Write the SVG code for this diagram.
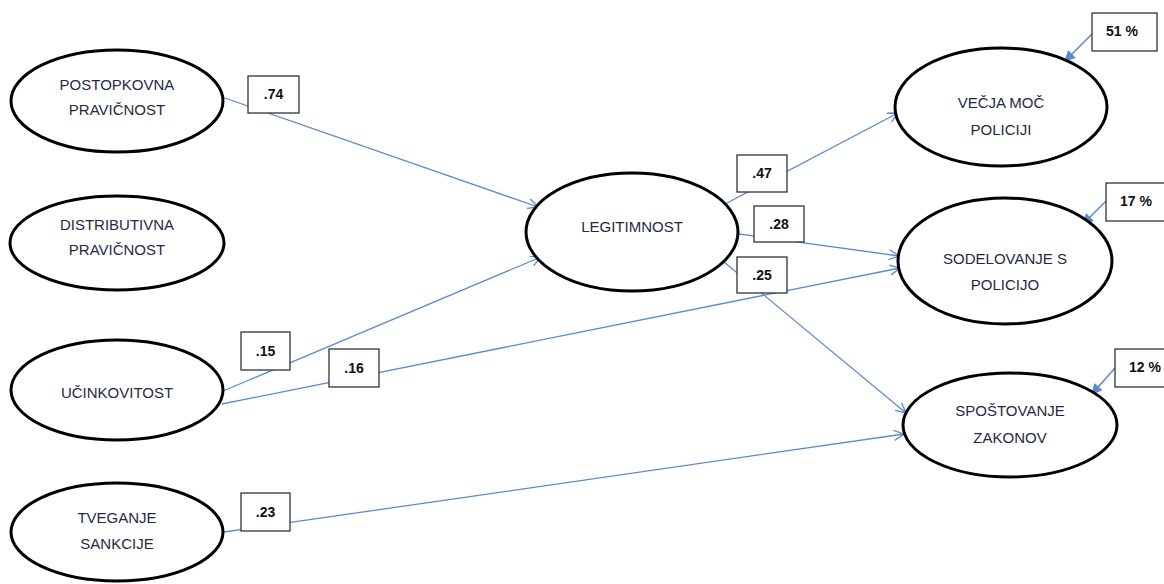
<svg xmlns="http://www.w3.org/2000/svg" width="1164" height="584" viewBox="0 0 1164 584">
  <defs>
    <style>
      .node ellipse { fill: #ffffff; stroke: #000000; stroke-width: 3; }
      .node text { font-family: "Liberation Sans", Arial, sans-serif; font-size: 15px; fill: #1f2a44; text-anchor: middle; }
      .path { stroke: #5b8bcf; stroke-width: 1.3; fill: none; }
      .path.open { marker-end: url(#open-arrow); }
      .path.solid { marker-end: url(#solid-arrow); stroke-width: 1.6; }
      .coef rect, .r2 rect { fill: #ffffff; stroke: #333333; stroke-width: 1.3; }
      .coef text, .r2 text { font-family: "Liberation Sans", Arial, sans-serif; font-size: 14px; font-weight: bold; fill: #111111; text-anchor: middle; }
    </style>
    <marker id="open-arrow" viewBox="0 0 12 12" refX="11" refY="6" markerWidth="12" markerHeight="12" markerUnits="userSpaceOnUse" orient="auto">
      <path d="M1,1 L11,6 L1,11" fill="none" stroke="#5b8bcf" stroke-width="1.3"/>
    </marker>
    <marker id="solid-arrow" viewBox="0 0 10 10" refX="9" refY="5" markerWidth="11" markerHeight="11" markerUnits="userSpaceOnUse" orient="auto">
      <path d="M0,0 L10,5 L0,10 Z" fill="#5b8bcf"/>
    </marker>
  </defs>

  <rect width="1164" height="584" fill="#ffffff"/>

  <!-- structural paths -->
  <g id="connectors">
    <line class="path open" x1="222" y1="97" x2="538" y2="207"/>
    <line class="path open" x1="223" y1="391" x2="541" y2="257"/>
    <line class="path open" x1="222" y1="404" x2="900" y2="268"/>
    <line class="path open" x1="224" y1="532" x2="904" y2="434"/>
    <line class="path open" x1="727" y1="203" x2="898" y2="113"/>
    <line class="path open" x1="739" y1="234" x2="899" y2="256"/>
    <line class="path open" x1="724" y1="262" x2="906" y2="413"/>
    <line class="path solid" x1="1093" y1="33" x2="1065" y2="61"/>
    <line class="path solid" x1="1106" y1="201" x2="1083" y2="224"/>
    <line class="path solid" x1="1115" y1="368" x2="1092" y2="394"/>
  </g>

  <!-- path coefficients -->
  <g id="coefficients">
    <g class="coef"><rect x="248" y="76" width="51" height="37"/><text x="273.5" y="99">.74</text></g>
    <g class="coef"><rect x="241" y="332" width="49" height="38"/><text x="265.5" y="356">.15</text></g>
    <g class="coef"><rect x="329" y="349" width="50" height="38"/><text x="354" y="373">.16</text></g>
    <g class="coef"><rect x="241" y="493" width="49" height="38"/><text x="265.5" y="517">.23</text></g>
    <g class="coef"><rect x="737" y="155" width="50" height="37"/><text x="762" y="178">.47</text></g>
    <g class="coef"><rect x="754" y="206" width="50" height="36"/><text x="779" y="229">.28</text></g>
    <g class="coef"><rect x="737" y="257" width="50" height="36"/><text x="762" y="280">.25</text></g>
  </g>

  <!-- explained variance -->
  <g id="r-squared">
    <g class="r2"><rect x="1092" y="13" width="65" height="38"/><text x="1122" y="36">51 %</text></g>
    <g class="r2"><rect x="1106" y="183" width="65" height="38"/><text x="1136" y="206">17 %</text></g>
    <g class="r2"><rect x="1115" y="349" width="65" height="38"/><text x="1145" y="372">12 %</text></g>
  </g>

  <!-- latent variables -->
  <g id="postopkovna" class="node">
    <ellipse cx="117" cy="101" rx="106" ry="51"/>
    <text x="117" y="90">POSTOPKOVNA</text>
    <text x="117" y="115">PRAVIČNOST</text>
  </g>
  <g id="distributivna" class="node">
    <ellipse cx="117" cy="243" rx="107" ry="47"/>
    <text x="117" y="230">DISTRIBUTIVNA</text>
    <text x="117" y="255">PRAVIČNOST</text>
  </g>
  <g id="ucinkovitost" class="node">
    <ellipse cx="117" cy="390" rx="106" ry="50"/>
    <text x="117" y="398">UČINKOVITOST</text>
  </g>
  <g id="tveganje" class="node">
    <ellipse cx="117" cy="532" rx="106" ry="49"/>
    <text x="117" y="523">TVEGANJE</text>
    <text x="117" y="549">SANKCIJE</text>
  </g>
  <g id="legitimnost" class="node">
    <ellipse cx="632" cy="232" rx="106" ry="59"/>
    <text x="632" y="232">LEGITIMNOST</text>
  </g>
  <g id="vecja-moc" class="node">
    <ellipse cx="1001" cy="107" rx="106" ry="59"/>
    <text x="1001" y="108">VEČJA MOČ</text>
    <text x="1001" y="135">POLICIJI</text>
  </g>
  <g id="sodelovanje" class="node">
    <ellipse cx="1005" cy="261" rx="107" ry="63"/>
    <text x="1005" y="264">SODELOVANJE S</text>
    <text x="1005" y="290">POLICIJO</text>
  </g>
  <g id="spostovanje" class="node">
    <ellipse cx="1010" cy="425" rx="107" ry="52"/>
    <text x="1010" y="416">SPOŠTOVANJE</text>
    <text x="1010" y="443">ZAKONOV</text>
  </g>
</svg>
